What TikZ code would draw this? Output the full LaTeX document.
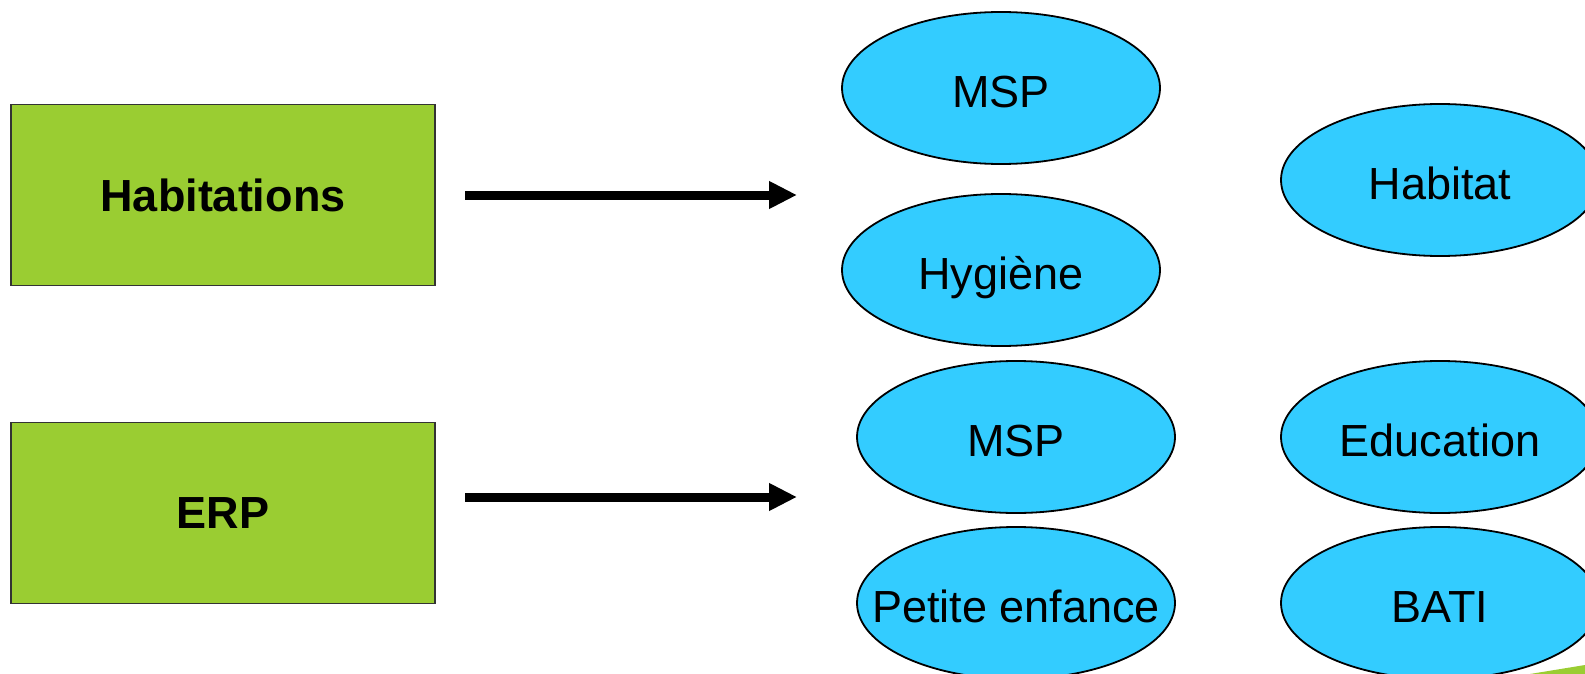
\documentclass[tikz,border=0pt]{standalone}
\usepackage{fontspec}
\setmainfont{Liberation Sans}
\usetikzlibrary{shapes.geometric,arrows.meta}
\definecolor{boxgreen}{HTML}{9ACD32}
\definecolor{ellblue}{HTML}{33CCFF}
\begin{document}
\begin{tikzpicture}[x=0.5pt,y=-0.5pt,
 box/.style={draw=black!80,line width=0.75pt,fill=boxgreen,minimum width=212pt,minimum height=90.5pt,inner sep=0pt,font=\fontsize{22.5}{27}\selectfont\bfseries},
 oval/.style={ellipse,draw=black,line width=0.9pt,fill=ellblue,minimum width=159pt,minimum height=76pt,inner sep=0pt,text height=20.25pt,text depth=1.1pt,font=\fontsize{22.5}{27}\selectfont},
 arr/.style={line width=4.5pt,-{Triangle[length=14pt,width=13pt]}}]
\useasboundingbox (0,0) rectangle (1585,674);
\node[box] (hab) at (223,195) {Habitations};
\node[box] (erp) at (223,513) {ERP};
\node[oval] (msp1) at (1001,88) {MSP};
\node[oval] (hyg) at (1001,270) {Hygiène};
\node[oval] (msp2) at (1016,437) {MSP};
\node[oval] (pe) at (1016,603) {\makebox[0pt]{Petite enfance}};
\node[oval] (habt) at (1440,180) {Habitat};
\node[oval] (edu) at (1440,437) {Education};
\node[oval] (bati) at (1440,603) {BATI};
\coordinate (a1s) at (465,195);
\coordinate (a1e) at (797,195);
\coordinate (a2s) at (465,497);
\coordinate (a2e) at (797,497);
\draw[arr] (a1s) -- (a1e);
\draw[arr] (a2s) -- (a2e);
\fill[boxgreen] (1530,674) -- (1585,665) -- (1585,674) -- cycle;
\end{tikzpicture}
\end{document}
